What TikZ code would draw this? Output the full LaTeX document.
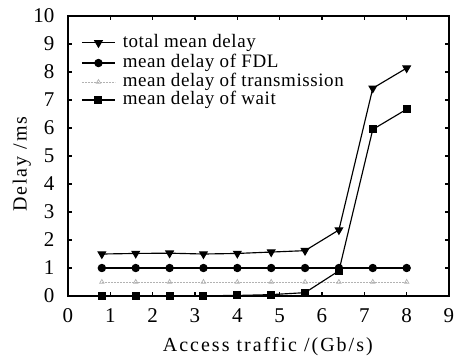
\documentclass[tikz,border=0pt]{standalone}
\usepackage{fontspec}
\setmainfont{Liberation Serif}
\newfontfamily\widefont[LetterSpace=10]{Liberation Serif}
\newfontfamily\legfont[LetterSpace=3]{Liberation Serif}
\usetikzlibrary{plotmarks}

\tikzset{
  totline/.style={mark=triangle*, mark options={rotate=180}, mark size=4.2pt},
  fdlline/.style={mark=*, mark size=3.6pt},
  tranline/.style={gray!60, line width=0.7pt, dash pattern=on 2pt off 1pt, mark=triangle, mark size=2.6pt, mark options={solid}},
  waitline/.style={mark=square*, mark size=3.4pt},
  ticklabel/.style={font=\fontsize{21}{21}\selectfont, inner sep=0pt},
  legtext/.style={anchor=west, inner sep=0pt, font=\fontsize{19}{19}\selectfont\legfont}
}

\begin{document}
\begin{tikzpicture}[x=42.33pt, y=28pt, line width=1.15pt]
\useasboundingbox (-1.606,-2.179) rectangle (9.26,10.571);

% frame and ticks
\draw[line width=1.3pt] (0,0) rectangle (9,10);
\foreach \i in {1,...,8} {
  \draw (\i,0) -- ++(0,4pt);
  \draw (\i,10) -- ++(0,-4pt);
}
\foreach \j in {1,...,9} {
  \draw (0,\j) -- ++(4pt,0);
  \draw (9,\j) -- ++(-4pt,0);
}
\foreach \i in {0,...,9}
  \node[ticklabel] (xl\i) at (\i,-0.71) {\i};
\foreach \j in {0,...,10}
  \node[ticklabel, anchor=east] (yl\j) at (-0.31,\j) {\j};

% axis titles
\node[font=\fontsize{20}{20}\selectfont\widefont] (xtitle) at (4.72,-1.82) {Access traffic /(Gb/s)};
\node[font=\fontsize{20}{20}\selectfont\widefont, rotate=90] (ytitle) at (-1.09,4.71) {Delay /ms};

% curves
\draw[tranline] plot coordinates {(0.8,0.5) (1.6,0.5) (2.4,0.5) (3.2,0.5) (4.0,0.5)
  (4.8,0.5) (5.6,0.5) (6.4,0.5) (7.2,0.5) (8.0,0.5)};
\draw[fdlline] plot coordinates {(0.8,1) (1.6,1) (2.4,1) (3.2,1) (4.0,1)
  (4.8,1) (5.6,1) (6.4,1) (7.2,1) (8.0,1)};
\draw[waitline] plot coordinates {(0.8,0) (1.6,0) (2.4,0) (3.2,0.01) (4.0,0.02)
  (4.8,0.05) (5.6,0.12) (6.4,0.9) (7.2,5.95) (8.0,6.67)};
\draw[totline] plot coordinates {(0.8,1.5) (1.6,1.52) (2.4,1.53) (3.2,1.5) (4.0,1.52)
  (4.8,1.57) (5.6,1.62) (6.4,2.36) (7.2,7.42) (8.0,8.14)};

% legend
\draw (0.33,9.04) -- (1.11,9.04);
\draw (0.33,8.32) -- (1.11,8.32);
\draw[tranline] (0.33,7.64) -- (1.11,7.64);
\draw (0.33,7.0) -- (1.11,7.0);
\draw[totline] plot coordinates {(0.72,9.04)};
\draw[fdlline] plot coordinates {(0.72,8.32)};
\draw[tranline] plot coordinates {(0.72,7.64)};
\draw[waitline] plot coordinates {(0.72,7.0)};
\node[legtext] (legtot) at (1.28,9.04) {total mean delay};
\node[legtext] (legfdl) at (1.28,8.32) {mean delay of FDL};
\node[legtext] (legtran) at (1.28,7.64) {mean delay of transmission};
\node[legtext] (legwait) at (1.28,7.0) {mean delay of wait};
\end{tikzpicture}
\end{document}
